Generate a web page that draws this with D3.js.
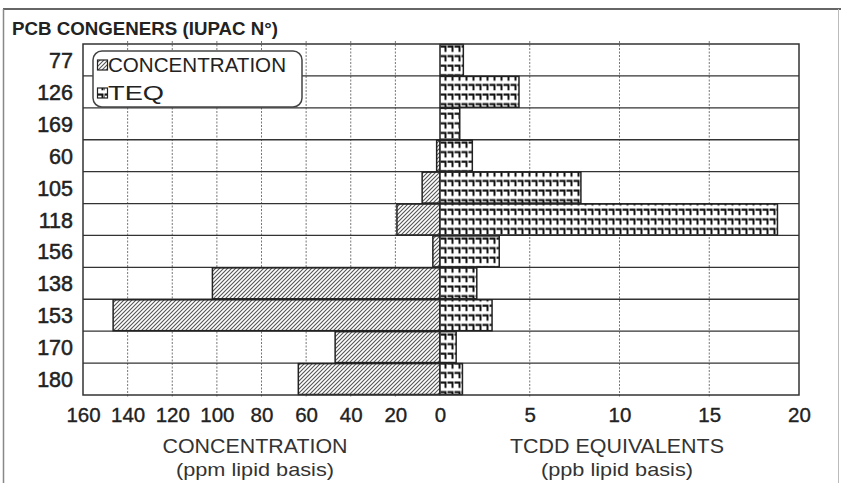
<!DOCTYPE html>
<html>
<head>
<meta charset="utf-8">
<script src="https://cdn.jsdelivr.net/npm/d3@7"></script>
<style>
  html, body { margin: 0; padding: 0; background: #fff; }
  svg { display: block; font-family: "Liberation Sans", Arial, sans-serif; }
</style>
</head>
<body>
<svg id="chart" width="841" height="483"></svg>
<script>
// ---- data ----
const congeners = ["77", "126", "169", "60", "105", "118", "156", "138", "153", "170", "180"];
const concentration = [0, 0, 0, 1.5, 8, 19.3, 3.2, 102, 146.5, 47, 63.5];   // ppm lipid basis
const teq = [1.3, 4.4, 1.1, 1.8, 7.85, 18.8, 3.3, 2.05, 2.9, 0.9, 1.25];    // ppb lipid basis
const concTicks = [160, 140, 120, 100, 80, 60, 40, 20, 0];
const teqTicks = [0, 5, 10, 15, 20];
const legendLabels = ["CONCENTRATION", "TEQ"];

// ---- layout ----
const svg = d3.select("#chart");
const plot = { left: 83, right: 799, top: 44, bottom: 395 };
const zeroX = 440;

const xL = d3.scaleLinear().domain([160, 0]).range([plot.left, zeroX]);
const xR = d3.scaleLinear().domain([0, 20]).range([zeroX, plot.right]);
const y = d3.scaleBand().domain(congeners).range([plot.top, plot.bottom]).padding(0);

const defs = svg.append("defs");
const hatch = defs.append("pattern").attr("id", "hatch")
  .attr("patternUnits", "userSpaceOnUse").attr("width", 4).attr("height", 4);
hatch.append("rect").attr("width", 4).attr("height", 4).attr("fill", "#fff");
hatch.append("path").attr("d", "M-1,1 L1,-1 M0,4 L4,0 M3,5 L5,3")
  .attr("stroke", "#555").attr("stroke-width", 1.1);

const brick = defs.append("pattern").attr("id", "brick")
  .attr("patternUnits", "userSpaceOnUse").attr("width", 7).attr("height", 9.6)
  .attr("x", zeroX).attr("y", plot.top);
brick.append("rect").attr("width", 7).attr("height", 9.6).attr("fill", "#fff");
brick.append("path").attr("d", "M0.5,2.5 H5.5 V7.8")
  .attr("stroke", "#111").attr("stroke-width", 2).attr("fill", "none");

// outer frame
svg.append("line").attr("x1", 3).attr("x2", 841).attr("y1", 9).attr("y2", 9)
  .attr("stroke", "#666").attr("stroke-width", 2);
svg.append("line").attr("x1", 3.5).attr("x2", 3.5).attr("y1", 9).attr("y2", 483)
  .attr("stroke", "#888").attr("stroke-width", 1.5);
svg.append("line").attr("x1", 838.5).attr("x2", 838.5).attr("y1", 9).attr("y2", 483)
  .attr("stroke", "#bbb").attr("stroke-width", 1);

// title
svg.append("text").attr("x", 12).attr("y", 35)
  .attr("font-size", 17.5).attr("font-weight", "bold").attr("fill", "#222")
  .attr("textLength", 266).attr("lengthAdjust", "spacingAndGlyphs")
  .text("PCB CONGENERS (IUPAC N°)");

// vertical dotted gridlines
const gridG = svg.append("g");
concTicks.filter(d => d !== 0 && d !== 160).forEach(d => {
  gridG.append("line").attr("x1", xL(d)).attr("x2", xL(d))
    .attr("y1", plot.top - 3).attr("y2", plot.bottom + 3)
    .attr("stroke", "#777").attr("stroke-width", 1).attr("stroke-dasharray", "2,1.5");
});
teqTicks.filter(d => d !== 0 && d !== 20).forEach(d => {
  gridG.append("line").attr("x1", xR(d)).attr("x2", xR(d))
    .attr("y1", plot.top - 3).attr("y2", plot.bottom + 3)
    .attr("stroke", "#777").attr("stroke-width", 1).attr("stroke-dasharray", "2,1.5");
});

// row separators
congeners.slice(1).forEach(c => {
  svg.append("line").attr("x1", plot.left).attr("x2", plot.right)
    .attr("y1", y(c)).attr("y2", y(c))
    .attr("stroke", "#333").attr("stroke-width", 1.3);
});

// bars
const rows = congeners.map((c, i) => ({ c, conc: concentration[i], teq: teq[i] }));
svg.append("g").selectAll("rect").data(rows.filter(d => d.conc > 0)).join("rect")
  .attr("x", d => xL(d.conc)).attr("y", d => y(d.c) + 0.5)
  .attr("width", d => zeroX - xL(d.conc)).attr("height", y.bandwidth() - 1)
  .attr("fill", "url(#hatch)").attr("stroke", "#222").attr("stroke-width", 1.5);
svg.append("g").selectAll("rect").data(rows).join("rect")
  .attr("x", zeroX).attr("y", d => y(d.c) + 0.5)
  .attr("width", d => xR(d.teq) - zeroX).attr("height", y.bandwidth() - 1)
  .attr("fill", "url(#brick)").attr("stroke", "#222").attr("stroke-width", 1.5);

// plot border
svg.append("rect").attr("x", plot.left).attr("y", plot.top)
  .attr("width", plot.right - plot.left).attr("height", plot.bottom - plot.top)
  .attr("fill", "none").attr("stroke", "#333").attr("stroke-width", 1.5);

// y labels
svg.append("g").selectAll("text").data(congeners).join("text")
  .attr("x", 73).attr("y", d => y(d) + y.bandwidth() / 2 + 8)
  .attr("text-anchor", "end").attr("font-size", 21.5).attr("fill", "#222")
  .attr("stroke", "#222").attr("stroke-width", 0.5)
  .text(d => d);

// x axes (tick labels)
const axL = svg.append("g").attr("transform", `translate(0,${plot.bottom})`)
  .call(d3.axisBottom(xL).tickValues(concTicks.filter(d => d !== 0)).tickSize(0).tickPadding(0));
const axR = svg.append("g").attr("transform", `translate(0,${plot.bottom})`)
  .call(d3.axisBottom(xR).tickValues(teqTicks).tickSize(0).tickPadding(0));
[axL, axR].forEach(ax => {
  ax.select(".domain").remove();
  ax.selectAll("text").attr("font-size", 20.5).attr("fill", "#222")
    .attr("stroke", "#222").attr("stroke-width", 0.35)
    .attr("font-family", "Liberation Sans, Arial, sans-serif")
    .attr("dy", null).attr("y", 27);
});

// axis titles
const titles = [
  { x: 255, w1: 185, w2: 158, l1: "CONCENTRATION", l2: "(ppm lipid basis)" },
  { x: 617, w1: 214, w2: 152, l1: "TCDD EQUIVALENTS", l2: "(ppb lipid basis)" }
];
titles.forEach(t => {
  svg.append("text").attr("x", t.x).attr("y", 453).attr("text-anchor", "middle")
    .attr("font-size", 19.5).attr("fill", "#333")
    .attr("textLength", t.w1).attr("lengthAdjust", "spacingAndGlyphs").text(t.l1);
  svg.append("text").attr("x", t.x).attr("y", 476).attr("text-anchor", "middle")
    .attr("font-size", 19).attr("fill", "#333")
    .attr("textLength", t.w2).attr("lengthAdjust", "spacingAndGlyphs").text(t.l2);
});

// legend
const lg = svg.append("g");
lg.append("rect").attr("x", 93).attr("y", 51).attr("width", 209).attr("height", 56)
  .attr("rx", 9).attr("fill", "#fff").attr("stroke", "#444").attr("stroke-width", 1.5);
const fills = ["url(#hatch)", "url(#brick)"];
const legW = [178, 56];
legendLabels.forEach((lab, i) => {
  const by = 72 + i * 28;
  lg.append("rect").attr("x", 97.5).attr("y", by - 12).attr("width", 10).attr("height", 10)
    .attr("fill", fills[i]).attr("stroke", "#222").attr("stroke-width", 1.2);
  lg.append("text").attr("x", 108).attr("y", by).attr("font-size", 19.5)
    .attr("fill", "#222").attr("textLength", legW[i]).attr("lengthAdjust", "spacingAndGlyphs")
    .text(lab);
});
</script>
</body>
</html>
